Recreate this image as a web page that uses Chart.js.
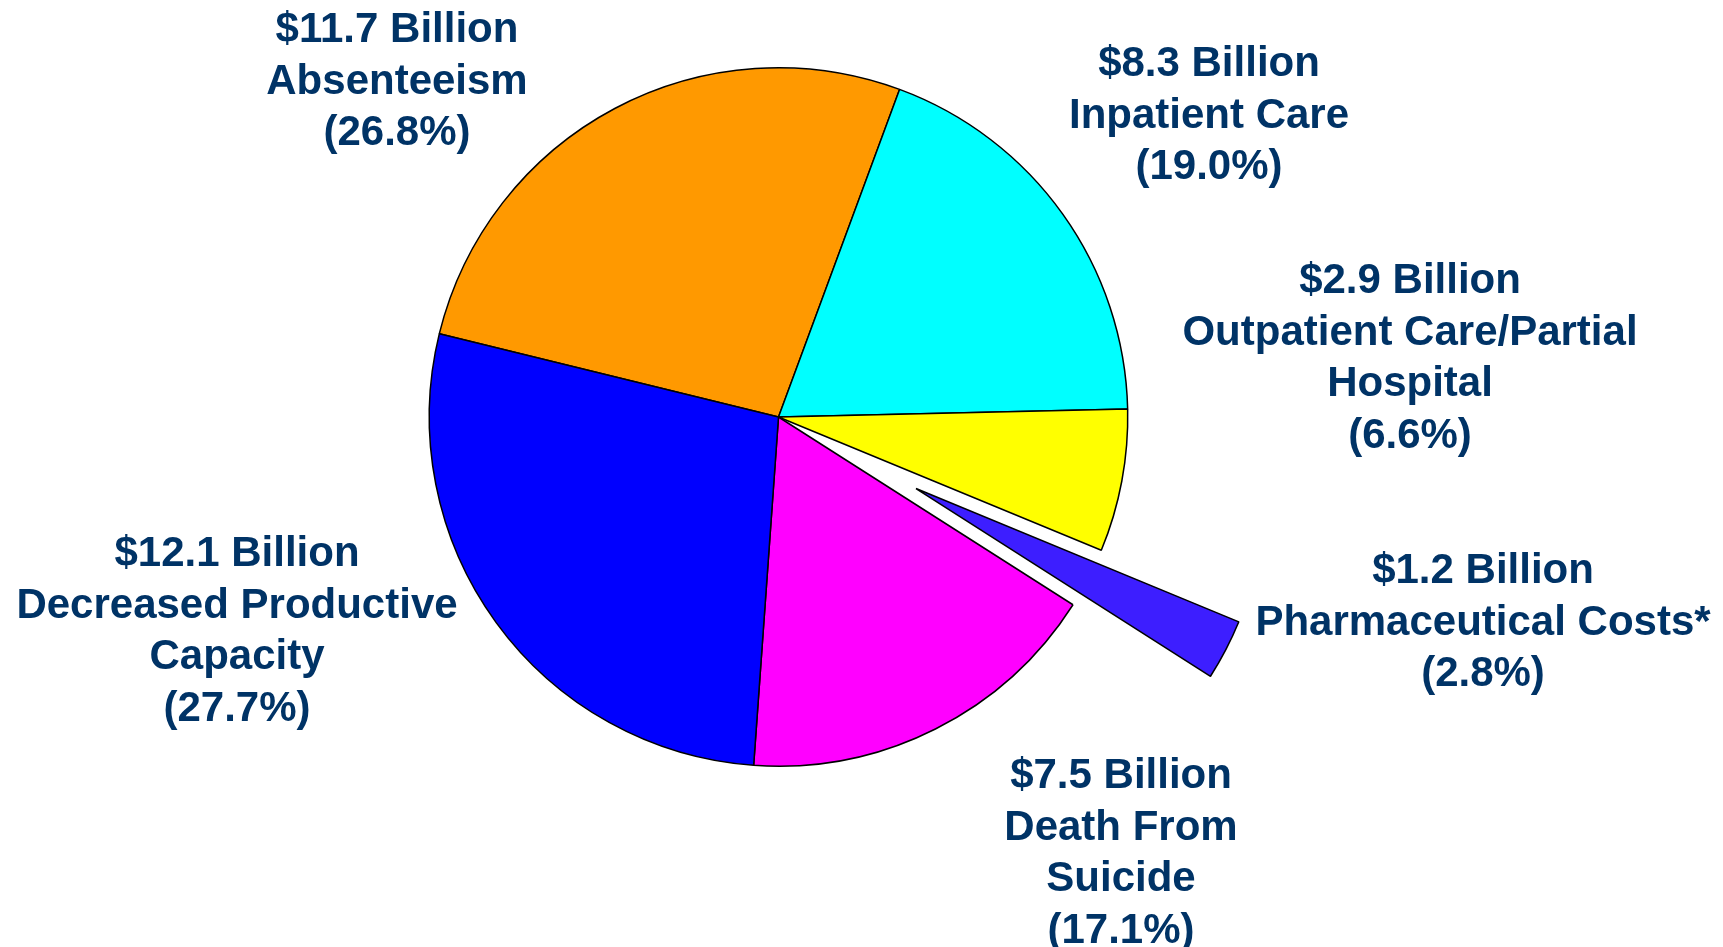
<!DOCTYPE html>
<html>
<head>
<meta charset="utf-8">
<script src="https://cdn.jsdelivr.net/npm/chart.js@4"></script>
<style>
  html, body { margin: 0; padding: 0; background: #ffffff; }
  body { width: 1723px; height: 947px; position: relative; overflow: hidden; }
  #wrap { position: absolute; left: 0; top: 0; width: 1723px; height: 947px; }
  .lbl {
    position: absolute;
    transform: translateX(-50%);
    white-space: nowrap;
    text-align: center;
    font-family: "Liberation Sans", Arial, "DejaVu Sans", sans-serif;
    font-weight: bold;
    font-size: 42px;
    line-height: 51.5px;
    color: #003366;
  }
</style>
</head>
<body>
<div id="wrap"><canvas id="c"></canvas></div>
<script>
// ---- data ----
const categoryLines = [
  ['Absenteeism'],
  ['Inpatient Care'],
  ['Outpatient Care/Partial', 'Hospital'],
  ['Pharmaceutical Costs*'],
  ['Death From', 'Suicide'],
  ['Decreased Productive', 'Capacity']
];
const amountsBillion = [11.7, 8.3, 2.9, 1.2, 7.5, 12.1];
const percents = [26.8, 19.0, 6.6, 2.8, 17.1, 27.7];

// ---- styles / layout ----
const sliceColors = ['#FF9900', '#00FFFF', '#FFFF00', '#3D1EFF', '#FF00FF', '#0000FF'];
const explodeDistance = [0, 0, 0, 155, 0, 0];
const labelAnchors = [
  { x: 397, top: 2 },
  { x: 1209, top: 36 },
  { x: 1410, top: 253 },
  { x: 1483, top: 543 },
  { x: 1121, top: 748 },
  { x: 237, top: 526 }
];

const categories = categoryLines.map(l => l.join(' '));

const explodePlugin = {
  id: 'explode',
  beforeDatasetDraw(chart, args) {
    const area = chart.chartArea;
    const cx = (area.left + area.right) / 2;
    const cy = (area.top + area.bottom) / 2;
    args.meta.data.forEach((arc, i) => {
      const d = explodeDistance[i] || 0;
      const mid = (arc.startAngle + arc.endAngle) / 2;
      arc.x = cx + Math.cos(mid) * d;
      arc.y = cy + Math.sin(mid) * d;
    });
  }
};

new Chart(document.getElementById('c'), {
  type: 'pie',
  data: {
    labels: categories,
    datasets: [{
      data: percents,
      backgroundColor: sliceColors,
      borderColor: '#000000',
      borderWidth: 1.5,
      hoverOffset: 0,
      offset: 0
    }]
  },
  options: {
    responsive: true,
    maintainAspectRatio: false,
    animation: false,
    rotation: -76.2,
    layout: { padding: { left: 428.5, right: 594.5, top: 67, bottom: 180 } },
    plugins: {
      legend: { display: false },
      tooltip: { enabled: false },
      title: { display: false }
    },
    events: []
  },
  plugins: [explodePlugin]
});

// labels as real text
categoryLines.forEach((lines, i) => {
  const div = document.createElement('div');
  div.className = 'lbl';
  div.style.left = labelAnchors[i].x + 'px';
  div.style.top = labelAnchors[i].top + 'px';
  const allLines = ['$' + amountsBillion[i].toFixed(1) + ' Billion']
    .concat(lines)
    .concat(['(' + percents[i].toFixed(1) + '%)']);
  allLines.forEach(t => {
    const ln = document.createElement('div');
    ln.textContent = t;
    div.appendChild(ln);
  });
  document.body.appendChild(div);
});
</script>
</body>
</html>
